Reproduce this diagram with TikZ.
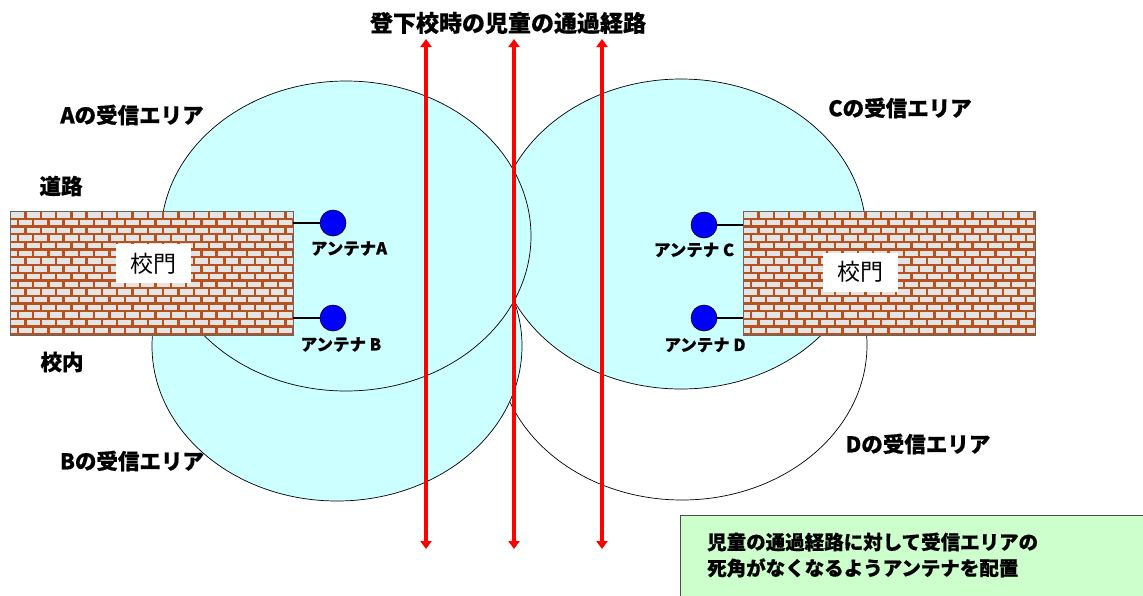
\documentclass[tikz,border=0pt]{standalone}
\usepackage{fontspec}
\setmainfont{Noto Sans CJK JP}
\newfontfamily\heavy{Noto Sans CJK JP}[BoldFeatures={FakeBold=0.6}]
\usetikzlibrary{shapes.geometric,arrows.meta}
\definecolor{areacol}{RGB}{204,255,255}
\definecolor{notecol}{RGB}{204,255,204}
\definecolor{mortar}{RGB}{181,82,32}
\definecolor{brickcol}{RGB}{228,228,228}
\definecolor{antcol}{RGB}{0,0,255}
\definecolor{routecol}{RGB}{255,0,0}
\tikzset{
 area/.style={ellipse, draw=black, line width=0.7pt, fill=areacol, minimum width=370pt, minimum height=310pt, inner sep=0pt},
 blankarea/.style={area, fill=white},
 wall/.style={draw=black!60, line width=0.8pt, inner sep=0pt, minimum height=124pt,
   path picture={
     \fill[mortar] (path picture bounding box.south west) rectangle (path picture bounding box.north east);
     \foreach \r in {0,...,16}{
       \foreach \c in {-1,...,20}{
         \pgfmathsetmacro\off{mod(\r,2)*7.65}
         \fill[brickcol] ([xshift={(\c*15.3+\off+1.3)*1pt}, yshift={-(\r*7.7+1.2)*1pt}]path picture bounding box.north west) rectangle ++(12.9pt,-5.4pt);
       }
     }
   }},
 gate/.style={fill=white, inner sep=0pt, minimum width=75pt, minimum height=39pt, font=\fontsize{23}{23}\selectfont},
 ant/.style={circle, draw=black, fill=antcol, minimum size=26pt, inner sep=0pt, line width=0.6pt},
 antlabel/.style={font=\heavy\bfseries\fontsize{16.5}{16.5}\selectfont, inner sep=0pt},
 lbl/.style={font=\heavy\bfseries\fontsize{21.5}{21.5}\selectfont, inner sep=0pt},
 feed/.style={draw=black, line width=1.2pt},
 route/.style={draw=routecol, line width=3.5pt, {Triangle[width=11pt,length=8pt]}-{Triangle[width=11pt,length=8pt]}},
 note/.style={draw=black!70, fill=notecol, line width=0.8pt, inner sep=0pt, anchor=north west, minimum width=480pt, minimum height=100pt},
 notetext/.style={font=\heavy\bfseries\fontsize{19.5}{26}\selectfont, align=left, anchor=west, inner sep=0pt},
}
\begin{document}
\begin{tikzpicture}[x=1pt,y=-1pt]
\clip (0,0) rectangle (1143,595);
\fill[white] (0,0) rectangle (1143,595);
% reception areas
\node[blankarea] (areaD) at (682,345) {};
\node[area] (areaB) at (337,346) {};
\node[area] (areaC) at (681,234) {};
\node[area] (areaA) at (346,236) {};
% walls
\node[wall, minimum width=283pt] (wallL) at (151.5,273) {};
\node[wall, minimum width=292pt] (wallR) at (889,273) {};
\node[gate] (gateL) at (153.5,263.5) {校門};
\node[gate] (gateR) at (860.5,272) {校門};
% antennas
\node[ant] (antA) at (333,223) {};
\node[ant] (antB) at (333,318) {};
\node[ant] (antC) at (704,225) {};
\node[ant] (antD) at (704,318) {};
\draw[feed] (antA.west) -- (antA.west -| wallL.east);
\draw[feed] (antB.west) -- (antB.west -| wallL.east);
\draw[feed] (antC.east) -- (antC.east -| wallR.west);
\draw[feed] (antD.east) -- (antD.east -| wallR.west);
\node[antlabel] (labA) at (349,248.5) {アンテナA};
\node[antlabel] (labB) at (341,344.5) {アンテナ B};
\node[antlabel] (labC) at (694,250) {アンテナ C};
\node[antlabel] (labD) at (705,345) {アンテナ D};
% routes
\coordinate (r1t) at (426,39); \coordinate (r1b) at (426,549);
\coordinate (r2t) at (514,39); \coordinate (r2b) at (514,549);
\coordinate (r3t) at (602,39); \coordinate (r3b) at (602,549);
\draw[route] (r1t) -- (r1b);
\draw[route] (r2t) -- (r2b);
\draw[route] (r3t) -- (r3b);
% labels
\node[lbl, font=\heavy\bfseries\fontsize{23}{23}\selectfont] (title) at (508,23) {登下校時の児童の通過経路};
\node[lbl] (tA) at (132,115) {Aの受信エリア};
\node[lbl] (tB) at (132,461) {Bの受信エリア};
\node[lbl] (tC) at (900,108) {Cの受信エリア};
\node[lbl] (tD) at (918,444) {Dの受信エリア};
\node[lbl] (road) at (61,186) {道路};
\node[lbl] (inside) at (62,362) {校内};
% note
\node[note] (note) at (680,515) {};
\node[notetext] (notet) at (707,555) {児童の通過経路に対して受信エリアの\\死角がなくなるようアンテナを配置};
\end{tikzpicture}
\end{document}
